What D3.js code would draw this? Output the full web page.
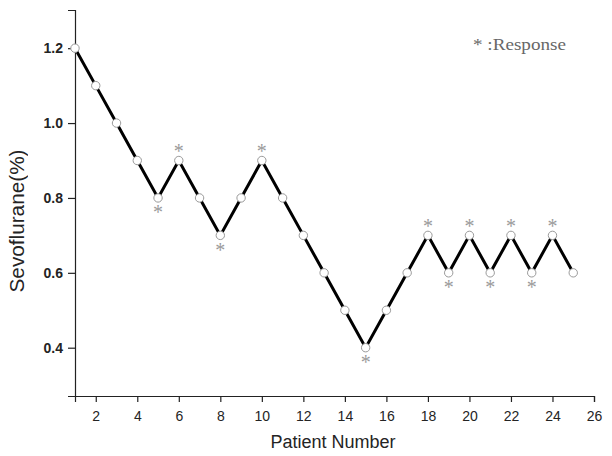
<!DOCTYPE html>
<html><head><meta charset="utf-8">
<script src="https://cdn.jsdelivr.net/npm/d3@7"></script>
<style>body{margin:0;background:#fff}svg{display:block}text{opacity:0.99}</style>
</head><body>
<svg id="c" width="612" height="456"></svg>
<script>
const patients = d3.range(1, 26);
const sevoflurane = [1.2,1.1,1.0,0.9,0.8,0.9,0.8,0.7,0.8,0.9,0.8,0.7,0.6,0.5,0.4,0.5,0.6,0.7,0.6,0.7,0.6,0.7,0.6,0.7,0.6];
const responsePatients = [5,6,8,10,15,18,19,20,21,22,23,24];
const xTickValues = d3.range(2, 27, 2);
const yTickValues = [0.4,0.6,0.8,1.0,1.2];

const svg = d3.select("#c");
const x = d3.scaleLinear().domain([1, 26]).range([75, 594]);
const y = d3.scaleLinear().domain([0.271, 1.302]).range([396, 10]);
const axisColor = "#222";
const sans = "Arial, 'Liberation Sans', sans-serif";

// x axis
const gx = svg.append("g").attr("transform", `translate(0,${y(0.271)})`);
gx.call(d3.axisBottom(x).tickValues(d3.range(1, 27)).tickSize(3).tickFormat(""))
  .call(g => g.select(".domain").remove());
gx.call(d3.axisBottom(x).tickValues(xTickValues).tickSize(6).tickFormat(d3.format("d")).tickPadding(9));
gx.selectAll("path,line").attr("stroke", axisColor).attr("stroke-width", 1.2);
gx.selectAll("text").attr("font-family", sans).attr("font-size", 14).attr("fill", "#222");

// y axis
const gy = svg.append("g").attr("transform", `translate(${x(1)},0)`);
gy.call(d3.axisLeft(y).tickValues([0.3,0.5,0.7,0.9,1.1]).tickSize(4).tickFormat(""))
  .call(g => g.select(".domain").remove());
gy.call(d3.axisLeft(y).tickValues(yTickValues).tickSize(7).tickFormat(d3.format(".1f")).tickPadding(5));
gy.selectAll("path,line").attr("stroke", axisColor).attr("stroke-width", 1.2);
gy.selectAll("text").attr("font-family", sans).attr("font-size", 14)
  .attr("font-weight", "bold").attr("fill", "#222");

// line
const data = patients.map((p, i) => ({p, v: sevoflurane[i]}));
svg.append("path").datum(data)
  .attr("fill", "none").attr("stroke", "#000").attr("stroke-width", 3)
  .attr("d", d3.line().x(d => x(d.p)).y(d => y(d.v)));

svg.selectAll("circle.pt").data(data).join("circle")
  .attr("class", "pt").attr("cx", d => x(d.p)).attr("cy", d => y(d.v)).attr("r", 4.2)
  .attr("fill", "#fff").attr("stroke", "#999").attr("stroke-width", 1);

// response asterisks
svg.selectAll("text.resp").data(responsePatients).join("text")
  .attr("class", "resp")
  .attr("x", p => x(p))
  .attr("y", p => {
    const i = p - 1;
    const above = i + 1 < sevoflurane.length && sevoflurane[i + 1] < sevoflurane[i];
    return y(sevoflurane[i]) + (above ? -2.5 : 21.5);
  })
  .attr("text-anchor", "middle")
  .attr("font-family", "'Liberation Serif', serif").attr("font-size", 20).attr("fill", "#999")
  .text("*");

// legend
svg.append("text").attr("x", 473).attr("y", 50)
  .attr("font-family", "'Liberation Serif', 'Times New Roman', serif").attr("font-size", 17).attr("fill", "#666")
  .attr("textLength", 93).attr("lengthAdjust", "spacingAndGlyphs")
  .text("* :Response");

// axis titles
svg.append("text").attr("x", 333).attr("y", 448).attr("text-anchor", "middle")
  .attr("font-family", sans).attr("font-size", 18).attr("fill", "#222")
  .text("Patient Number");
svg.append("text").attr("transform", `translate(24,221) rotate(-90)`).attr("text-anchor", "middle")
  .attr("font-family", sans).attr("font-size", 20).attr("fill", "#222")
  .attr("textLength", 143).attr("lengthAdjust", "spacingAndGlyphs")
  .text("Sevoflurane(%)");
</script>
</body></html>
